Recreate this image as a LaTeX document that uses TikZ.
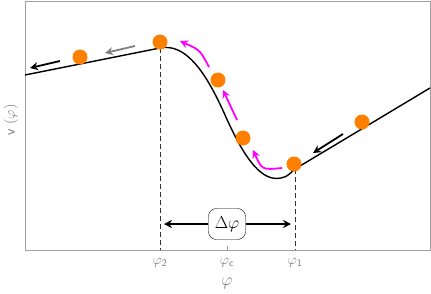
\documentclass[tikz,border=0pt]{standalone}
\usepackage{amsmath,amssymb}
\usepackage{tikz}
\usetikzlibrary{arrows.meta,positioning}
\definecolor{ballorange}{HTML}{FF8000}
\definecolor{framegray}{HTML}{A0A0A0}
\definecolor{tickgray}{HTML}{7A7A7A}
\definecolor{flowpink}{HTML}{FF00FF}

\begin{document}
\begin{tikzpicture}[x=1pt,y=-1pt,
			ball/.style={circle,fill=ballorange,inner sep=0pt,minimum size=15pt},
			push/.style={-{Stealth[length=8pt,width=8pt]},line width=1.8pt},
			tick/.style={text=tickgray,font=\Large},
			guide/.style={dash pattern=on 5pt off 3pt,line width=1pt,black!80}
			]
			\useasboundingbox (0,0) rectangle (431,293);
			\draw[framegray,line width=0.8pt] (25,1) rectangle (430,250);
			\draw[framegray,line width=0.8pt] (227,250) -- (227,246);
			% potential
			\coordinate (top) at (160,48);
			\coordinate (low) at (295,169);
			\draw[line width=1.4pt] (25,75) -- (top) .. controls (185,43) and (205,70) .. (225,115)
				.. controls (245,160) and (262,182) .. (281,178) .. controls (288,177) and (291,172) .. (low) -- (430,88);
			\coordinate (top0) at (160,250);
			\coordinate (low0) at (295,250);
			\draw[guide] (top) -- (top0);
			\draw[guide] (low) -- (low0);
			% balls
			\node[ball] (b1) at (80,57) {};
			\node[ball] (b2) at (160,42) {};
			\node[ball] (b3) at (218,80) {};
			\node[ball] (b4) at (243,138) {};
			\node[ball] (b5) at (294,164) {};
			\node[ball] (b6) at (362,122) {};
			% motion
			\coordinate (m1s) at (209,67); \coordinate (m1e) at (180,41);
			\coordinate (m2s) at (237,120); \coordinate (m2e) at (223,90);
			\coordinate (m3s) at (282,168); \coordinate (m3e) at (253,150);
			\draw[push,flowpink] (m1s) .. controls (200,50) .. (m1e);
			\draw[push,flowpink] (m2s) -- (m2e);
			\draw[push,flowpink] (m3s) .. controls (262,170) .. (m3e);
			\coordinate (r1s) at (343,134); \coordinate (r1e) at (313,153);
			\coordinate (l1s) at (135,46); \coordinate (l1e) at (105,53);
			\coordinate (l2s) at (60,61); \coordinate (l2e) at (30,68);
			\draw[push] (r1s) -- (r1e);
			\draw[push,gray] (l1s) -- (l1e);
			\draw[push] (l2s) -- (l2e);
			% width
			\node[draw,fill=white,rounded corners=8pt,minimum width=37pt,minimum height=31pt,inner sep=3pt,font=\LARGE] (dphi) at (227,224) {$\Delta\varphi$};
			\coordinate (dl) at (164,224);
			\coordinate (dr) at (291,224);
			\draw[push,line width=1.4pt] (dphi) -- (dl);
			\draw[push,line width=1.4pt] (dphi) -- (dr);
			% axes
			\node[tick] (t2) at (160,263) {$\varphi_{\mathsf{2}}$};
			\node[tick] (tc) at (227,263) {$\varphi_{\mathsf{c}}$};
			\node[tick] (t1) at (295,263) {$\varphi_{\mathsf{1}}$};
			\node[tick,font=\LARGE] (xl) at (227,283) {$\varphi$};
			\node[tick,rotate=90] (yl) at (11,120) {\textsf{v} ($\varphi$)};
		\end{tikzpicture}
\end{document}
